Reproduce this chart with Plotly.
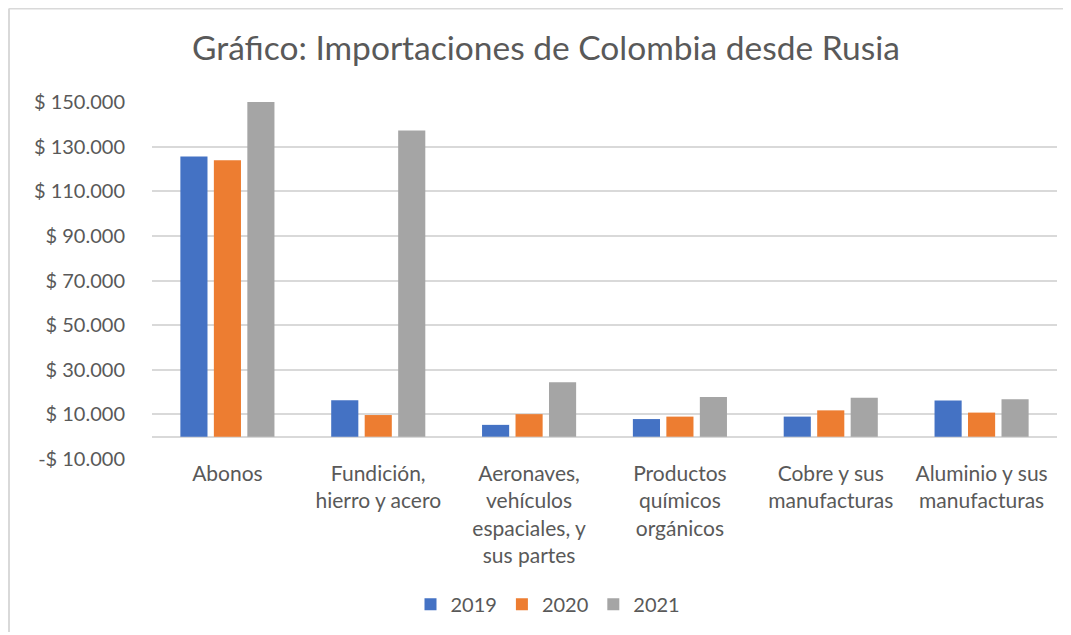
import plotly.graph_objects as go

categories = ["Abonos", "Fundición,<br>hierro y acero", "Aeronaves,<br>vehículos<br>espaciales, y<br>sus partes",
              "Productos<br>químicos<br>orgánicos", "Cobre y sus<br>manufacturas", "Aluminio y sus<br>manufacturas"]
series_names = ["2019", "2020", "2021"]
v2019 = [125600, 16300, 5300, 7900, 9000, 16200]
v2020 = [123900, 9700, 10100, 9000, 11800, 10800]
v2021 = [150000, 137200, 24400, 17800, 17400, 16800]
colors = ["#4472C4", "#ED7D31", "#A5A5A5"]
tick_values = [-10000, 10000, 30000, 50000, 70000, 90000, 110000, 130000, 150000]


def fmt(v):
    s = f"{abs(v):,}".replace(",", ".")
    return ("-$ " if v < 0 else "$ ") + s


# page body adds an 8px offset, so the figure is drawn 8px smaller
W, H = 1063, 627
ml, mr, mt, mb = 144, 14, 94, 174
pw, ph = W - ml - mr, H - mt - mb

fig = go.Figure()
for name, vals, c in zip(series_names, [v2019, v2020, v2021], colors):
    fig.add_trace(go.Bar(x=categories, y=vals, name=name, marker=dict(color=c, line=dict(width=0))))

font_family = "Lato, 'Open Sans', sans-serif"
fig.update_layout(
    width=W, height=H,
    margin=dict(l=ml, r=mr, t=mt, b=mb),
    paper_bgcolor="white", plot_bgcolor="white",
    barmode="group", bargap=0.334, bargroupgap=0.19,
    font=dict(family=font_family, color="#595959", size=20),
    title=dict(text="Gráfico: Importaciones de Colombia desde Rusia", x=538 / W, xanchor="center",
               y=1 - 40 / H, yanchor="middle", font=dict(size=33.5, color="#595959", family=font_family)),
    showlegend=True,
    legend=dict(orientation="h", x=(540 - ml) / pw, xanchor="center",
                y=(H - mb - 599) / ph, yanchor="middle", font=dict(size=20, color="#595959"),
                itemwidth=30, traceorder="normal"),
    xaxis=dict(showgrid=False, showline=False, ticks="", tickfont=dict(size=21, color="#595959")),
    yaxis=dict(range=[-10000, 150000], tickvals=tick_values, ticktext=[fmt(v) for v in tick_values],
               showgrid=True, gridcolor="#D9D9D9", gridwidth=1.5, zeroline=True, zerolinecolor="#D9D9D9",
               zerolinewidth=1.5, showline=False, ticks="", ticklabelstandoff=26,
               tickfont=dict(size=20, color="#595959")),
)

# chart-area border (top and left edges visible in reference)
bx = (1 - ml) / pw
by = (H - mb - 0) / ph
fig.add_shape(type="line", xref="paper", yref="paper", x0=bx, x1=(W - ml) / pw, y0=by, y1=by,
              line=dict(color="#D9D9D9", width=2))
fig.add_shape(type="line", xref="paper", yref="paper", x0=bx, x1=bx, y0=by, y1=-mb / ph,
              line=dict(color="#D9D9D9", width=2))

fig.write_html("out.html")
